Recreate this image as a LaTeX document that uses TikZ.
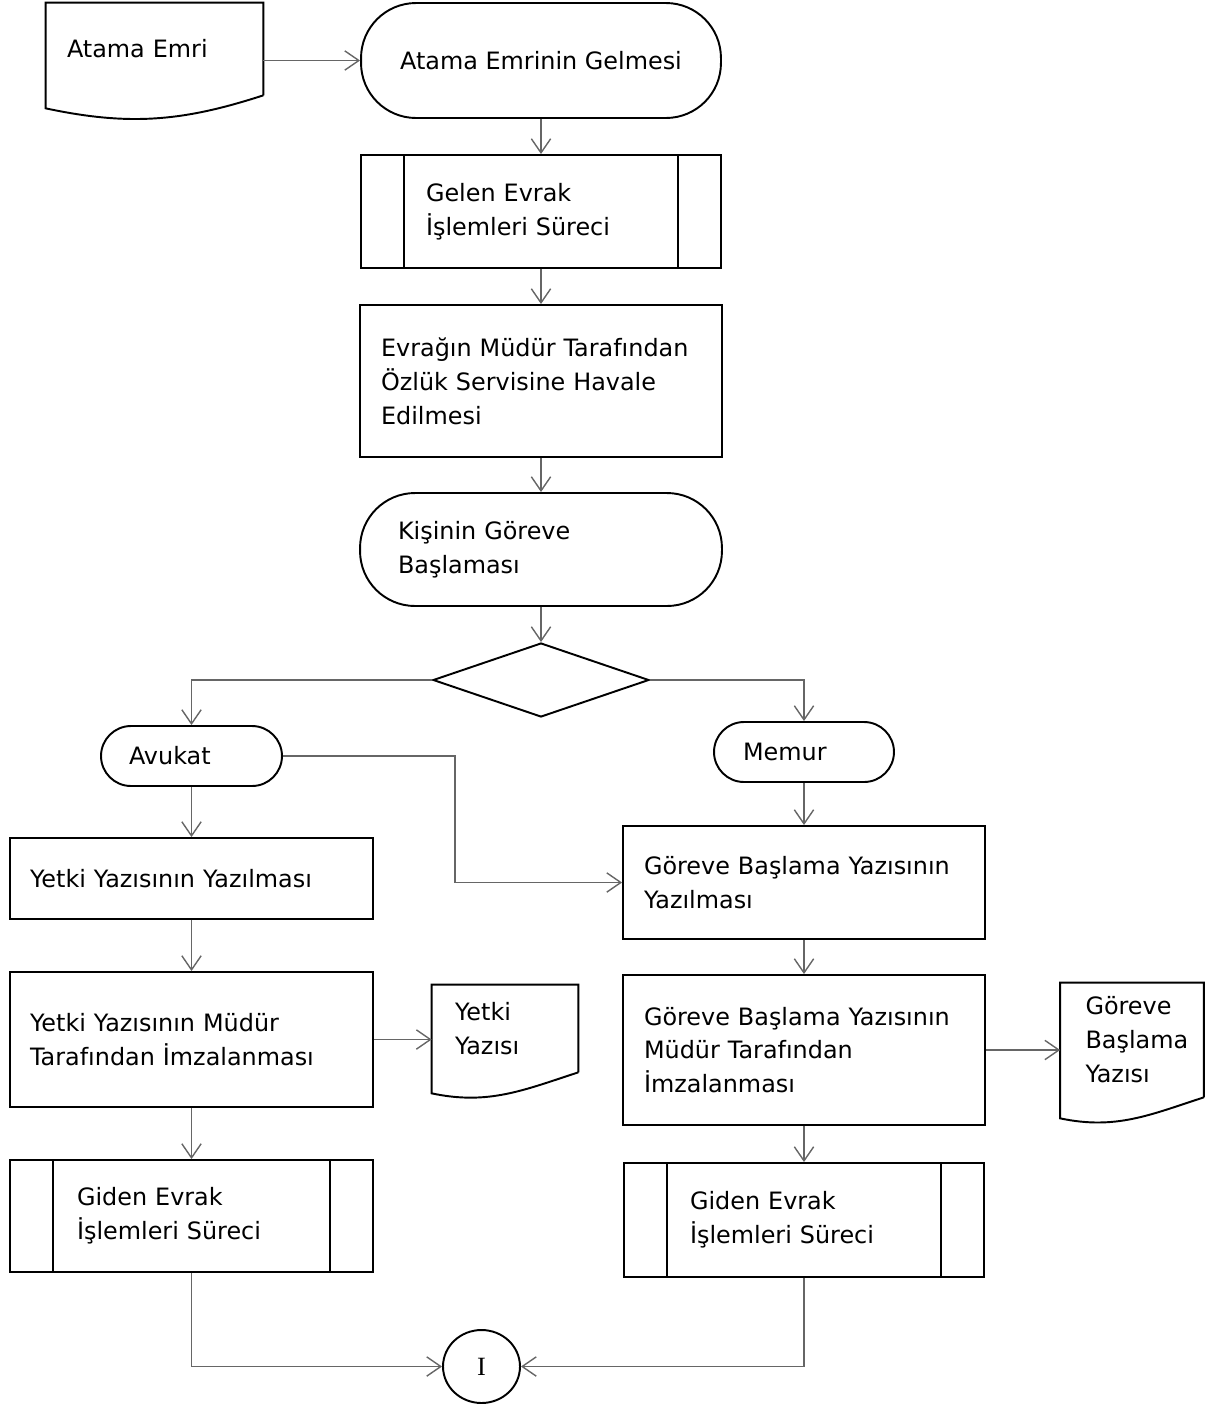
\documentclass[tikz,border=0pt]{standalone}
\usepackage{fontspec}
\setmainfont{DejaVu Sans}
\newfontfamily\serifI{Liberation Serif}
\usetikzlibrary{shapes.geometric,arrows.meta}

\tikzset{
  shape line/.style = {line width=1.1pt},
  box/.style = {draw, shape line, rectangle, align=left, inner ysep=0pt},
  term/.style = {box, rounded corners=1.1cm},
  doc/.style = {rectangle, align=left, inner ysep=0pt},
  conn/.style = {draw=black!60, line width=0.8pt, -{Straight Barb[length=8pt,width=11pt]}}
}

\begin{document}
\begin{tikzpicture}[x=0.02cm, y=-0.02cm, font=\fontsize{13.6}{19.3}\selectfont]
    \useasboundingbox (0,0) rectangle (1213,1404);

    % ana akis
    \node [doc, minimum width=4.34cm, minimum height=1.84cm, inner xsep=0.42cm, text width=3.5cm] (atama) at (154.5,49) {Atama Emri};
    \node [term, align=center, minimum width=7.2cm, minimum height=2.3cm] (emir) at (541,60.5) {Atama Emrinin Gelmesi};
    \node [box, minimum height=2.26cm, inner xsep=1.3cm, text width=4.6cm] (gelen) at (541,211.5) {Gelen Evrak\\İşlemleri Süreci};
    \node [box, minimum height=3.04cm, inner xsep=0.42cm, text width=6.4cm] (havale) at (541,381) {Evrağın Müdür Tarafından\\Özlük Servisine Havale\\Edilmesi};
    \node [term, minimum height=2.26cm, inner xsep=0.76cm, text width=5.72cm] (kisi) at (541,549.5) {Kişinin Göreve\\Başlaması};
    \node [draw, shape line, diamond, minimum width=4.32cm, minimum height=1.48cm, inner sep=0pt] (karar) at (541,680) {};

    % avukat kolu
    \node [term, rounded corners=0.6cm, minimum height=1.2cm, inner xsep=0.56cm, text width=2.5cm] (avukat) at (191.5,756) {Avukat};
    \node [box, minimum height=1.62cm, inner xsep=0.4cm, text width=6.46cm] (yetki1) at (191.5,878.5) {Yetki Yazısının Yazılması};
    \node [box, minimum height=2.7cm, inner xsep=0.4cm, text width=6.46cm] (yetki2) at (191.5,1039.5) {Yetki Yazısının Müdür\\Tarafından İmzalanması};
    \node [doc, minimum height=1.74cm, inner xsep=0.46cm, text width=2.0cm] (yetkidoc) at (505,1028.5) {Yetki\\Yazısı};
    \node [box, minimum height=2.24cm, inner xsep=1.34cm, text width=4.58cm] (gidenL) at (191.5,1216) {Giden Evrak\\İşlemleri Süreci};

    % memur kolu
    \node [term, rounded corners=0.6cm, minimum height=1.2cm, inner xsep=0.58cm, text width=2.44cm] (memur) at (804,752) {Memur};
    \node [box, minimum height=2.26cm, inner xsep=0.42cm, text width=6.4cm] (gbyaz) at (804,882.5) {Göreve Başlama Yazısının\\Yazılması};
    \node [box, minimum height=3.0cm, inner xsep=0.42cm, text width=6.4cm] (gbimza) at (804,1050) {Göreve Başlama Yazısının\\Müdür Tarafından\\İmzalanması};
    \node [doc, minimum height=2.28cm, inner xsep=0.5cm, text width=1.86cm] (gbdoc) at (1132,1040) {Göreve\\Başlama\\Yazısı};
    \node [box, minimum height=2.28cm, inner xsep=1.32cm, text width=4.56cm] (gidenR) at (804,1220) {Giden Evrak\\İşlemleri Süreci};

    \node [draw, shape line, ellipse, minimum width=1.54cm, minimum height=1.46cm, inner sep=0pt, font=\serifI\fontsize{15}{18}\selectfont] (bag) at (481.5,1366.5) {I};

    % belge sekilleri
    \foreach \d/\h in {atama/0.26cm, yetkidoc/0.42cm, gbdoc/0.42cm}
        \draw [shape line] (\d.south east) -- (\d.north east) -- (\d.north west) -- ([yshift=-\h]\d.south west)
            to [out=-12, in=198] (\d.south east);

    % alt surec cizgileri
    \foreach \p in {gelen, gidenL, gidenR}
        \draw [shape line] ([xshift=0.88cm]\p.north west) -- ([xshift=0.88cm]\p.south west)
            ([xshift=-0.88cm]\p.north east) -- ([xshift=-0.88cm]\p.south east);

    % baglantilar
    \draw [conn] (atama.east |- emir.west) -- (emir.west);
    \draw [conn] (emir) -- (gelen);
    \draw [conn] (gelen) -- (havale);
    \draw [conn] (havale) -- (kisi);
    \draw [conn] (kisi) -- (karar);
    \draw [conn] (karar.west) -| (avukat.north);
    \draw [conn] (karar.east) -| (memur.north);
    \draw [conn] (avukat.east) -- ++(172,0) |- (gbyaz.west);
    \draw [conn] (avukat) -- (yetki1);
    \draw [conn] (yetki1) -- (yetki2);
    \draw [conn] (yetki2.east) -- (yetki2.east -| yetkidoc.west);
    \draw [conn] (yetki2) -- (gidenL);
    \draw [conn] (memur) -- (gbyaz);
    \draw [conn] (gbyaz) -- (gbimza);
    \draw [conn] (gbimza.east) -- (gbimza.east -| gbdoc.west);
    \draw [conn] (gbimza) -- (gidenR);
    \draw [conn] (gidenL.south) |- (bag.west);
    \draw [conn] (gidenR.south) |- (bag.east);
\end{tikzpicture}
\end{document}
